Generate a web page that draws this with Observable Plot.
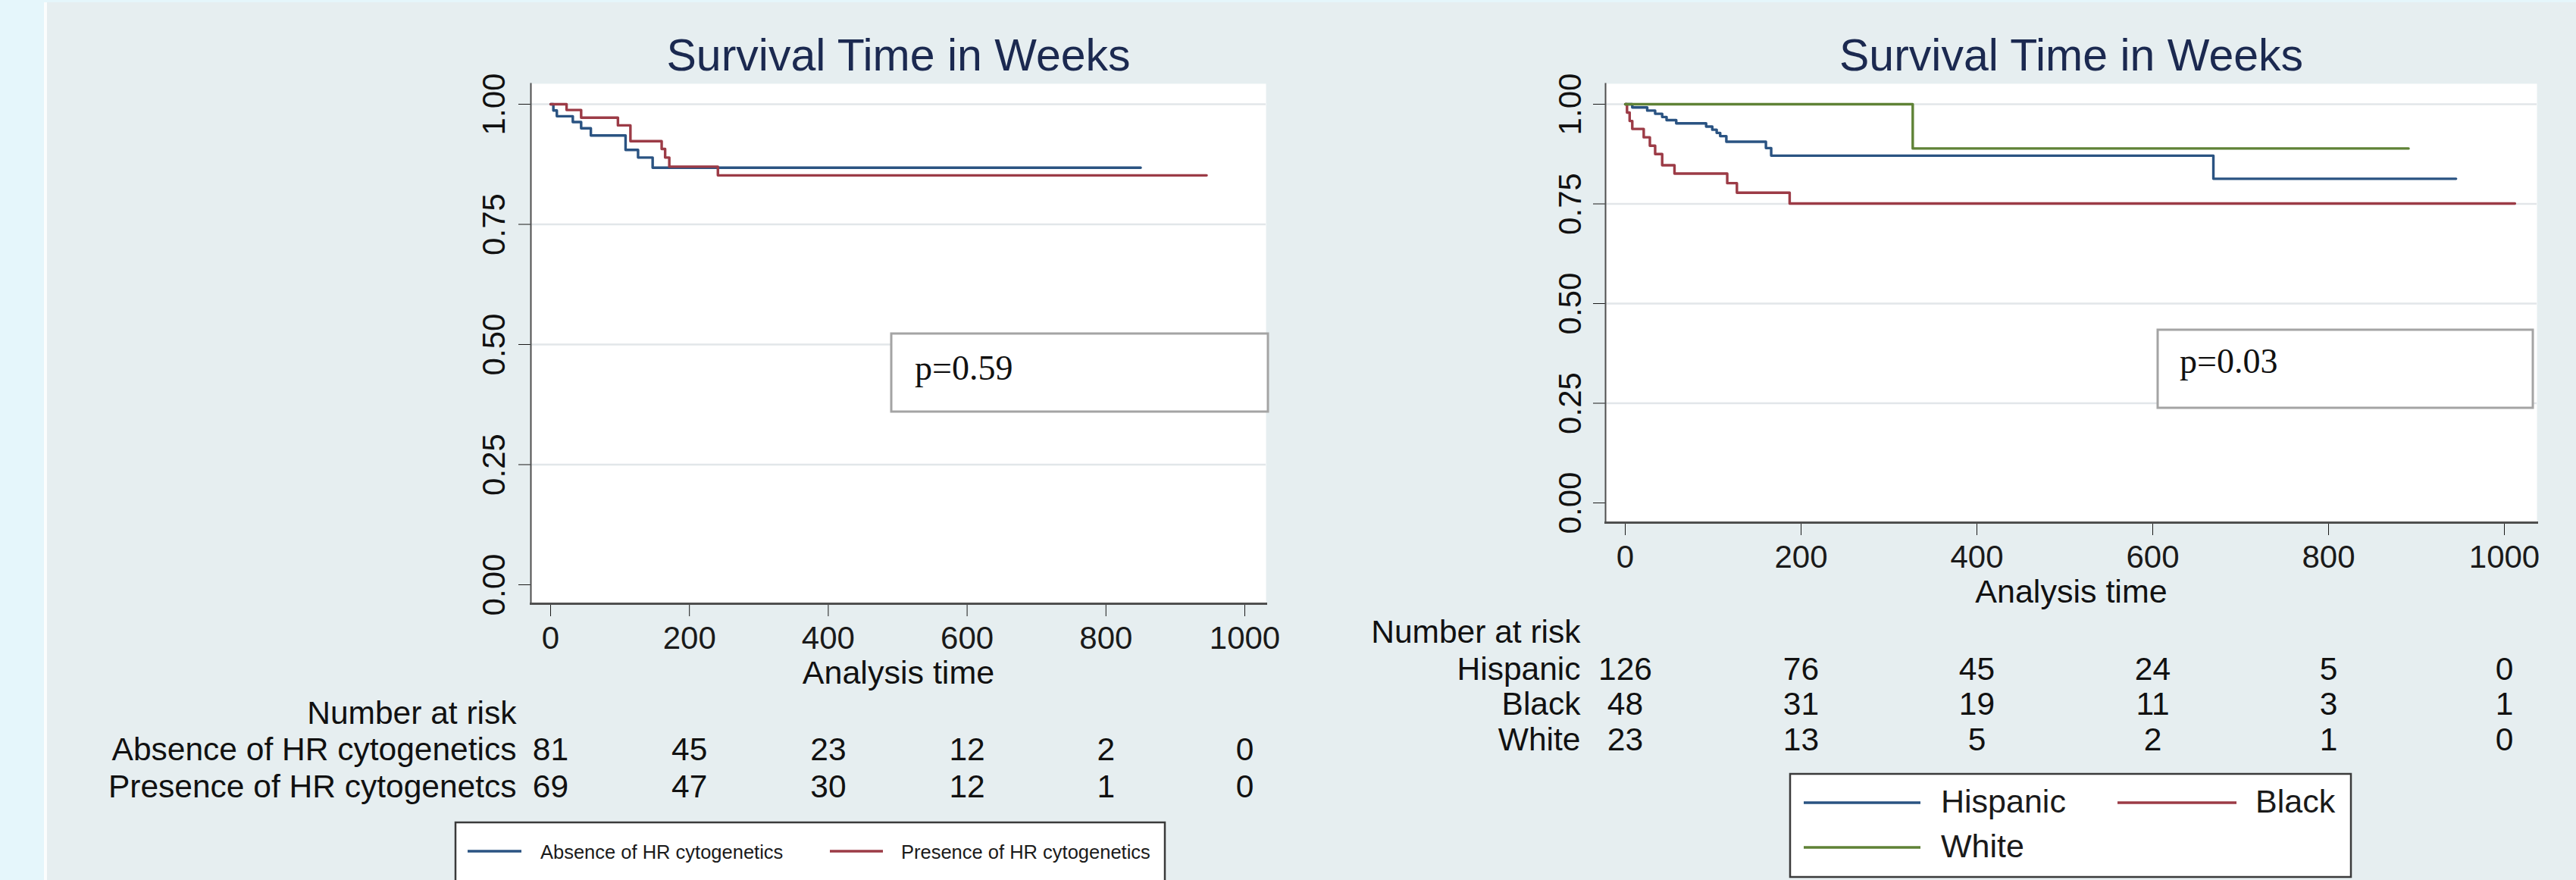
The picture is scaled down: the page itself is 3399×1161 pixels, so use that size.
<!DOCTYPE html>
<html>
<head>
<meta charset="utf-8">
<script src="https://cdn.jsdelivr.net/npm/d3@7"></script>
<script src="https://cdn.jsdelivr.net/npm/@observablehq/plot@0.6"></script>
<style>
  html, body { margin: 0; padding: 0; background: #e6eef0; }
  #root { position: relative; width: 3399px; height: 1161px; overflow: hidden; background: #e6eef0; font-family: 'Liberation Sans', Arial, sans-serif; }
  .abs { position: absolute; left: 0; top: 0; }
</style>
</head>
<body>
<div id="root">
  <div class="abs" style="left:0;top:0;width:58px;height:1161px;background:#e5f6fb"></div>
  <div class="abs" style="left:0;top:0;width:3399px;height:3px;background:#e5f6fb"></div>
  <div class="abs" style="left:58px;top:3px;width:4px;height:1158px;background:#fbfdfd"></div>
  <div id="leftPlot" class="abs" style="left:0;top:0"></div>
  <div id="rightPlot" class="abs" style="left:1700px;top:0"></div>
  <svg id="overlay" class="abs" width="3399" height="1161" style="pointer-events:none"></svg>
</div>
<script>
// ---------------- DATA ----------------
const titleText = "Survival Time in Weeks";
const xLabel = "Analysis time";
const riskTitle = "Number at risk";
const xTicks = [0, 200, 400, 600, 800, 1000];
const yTicks = [0, 0.25, 0.5, 0.75, 1];

// Left panel: HR cytogenetics
const hrGroups = ["Absence of HR cytogenetics", "Presence of HR cytogenetics"];
const hrRiskLabels = ["Absence of HR cytogenetics", "Presence of HR cytogenetcs"];
const absenceTime = [0, 4, 9, 32, 44, 58, 108, 126, 147, 850];
const absenceSurv = [1, 0.987, 0.975, 0.963, 0.950, 0.935, 0.905, 0.889, 0.868, 0.868];
const presenceTime = [0, 23, 44, 97, 115, 160, 165, 171, 241, 945];
const presenceSurv = [1, 0.988, 0.972, 0.956, 0.923, 0.907, 0.889, 0.870, 0.852, 0.852];
const absenceRisk = [81, 45, 23, 12, 2, 0];
const presenceRisk = [69, 47, 30, 12, 1, 0];
const leftP = "p=0.59";

// Right panel: race
const raceGroups = ["Hispanic", "Black", "White"];
const hispanicTime = [0, 8, 25, 34, 42, 47, 58, 92, 99, 104, 108, 115, 160, 166, 669, 945];
const hispanicSurv = [1, 0.992, 0.984, 0.976, 0.968, 0.960, 0.952, 0.944, 0.936, 0.928, 0.920, 0.906, 0.890, 0.871, 0.813, 0.813];
const blackTime = [0, 2, 5, 8, 21, 28, 34, 42, 56, 116, 127, 187, 1012];
const blackSurv = [1, 0.979, 0.958, 0.938, 0.917, 0.896, 0.875, 0.847, 0.826, 0.802, 0.778, 0.751, 0.751];
const whiteTime = [0, 327, 891];
const whiteSurv = [1, 0.889, 0.889];
const hispanicRisk = [126, 76, 45, 24, 5, 0];
const blackRisk = [48, 31, 19, 11, 3, 1];
const whiteRisk = [23, 13, 5, 2, 1, 0];
const rightP = "p=0.03";

// ---------------- STYLE ----------------
const C_BLUE = "#2a5382";
const C_RED = "#9c3b46";
const C_GREEN = "#5f8236";
const C_TITLE = "#1b2950";
const C_AXIS = "#4f4f4f";
const C_GRID = "#e2e6e9";
const FONT = "'Liberation Sans', Arial, sans-serif";
const FS_TEXT = 42.5;

const toRows = (T, S) => T.map((t, i) => ({t, s: S[i]}));
const riskRows = (N) => xTicks.map((t, i) => ({t, n: N[i]}));

function kmPlot(cfg) {
  const marks = [
    Plot.frame({fill: "white", stroke: null}),
    Plot.ruleY(yTicks.filter(d => d > 0), {stroke: C_GRID, strokeWidth: 2.5}),
    Plot.frame({anchor: "left", stroke: C_AXIS, strokeWidth: 2}),
    Plot.frame({anchor: "bottom", stroke: C_AXIS, strokeWidth: 3}),
    ...cfg.series.map(sr => Plot.line(toRows(sr.time, sr.surv), {x: "t", y: "s", curve: "step-after", stroke: sr.color, strokeWidth: 3.4})),
    Plot.text(yTicks, {y: d => d, text: d => d.toFixed(2), frameAnchor: "left", dx: cfg.yLabelDx, rotate: -90, textAnchor: "middle", lineAnchor: "bottom", fontSize: 42, fill: "#111"}),
    Plot.text([titleText], {text: d => d, frameAnchor: "top", dy: -18, lineAnchor: "bottom", fontSize: 59, fill: C_TITLE}),
    Plot.text([xLabel], {text: d => d, frameAnchor: "bottom", dy: 105, lineAnchor: "bottom", fontSize: 43, fill: "#111"}),
    Plot.text([riskTitle], {text: d => d, frameAnchor: "bottom-left", dx: cfg.rowDx, dy: 158, textAnchor: "end", lineAnchor: "bottom", fontSize: FS_TEXT, fill: "#111"}),
    ...cfg.risk.flatMap((r, i) => [
      Plot.text([r.label], {text: d => d, frameAnchor: "bottom-left", dx: cfg.rowDx, dy: cfg.rowDy[i], textAnchor: "end", lineAnchor: "bottom", fontSize: FS_TEXT, fill: "#111"}),
      Plot.text(riskRows(r.n), {x: "t", text: "n", frameAnchor: "bottom", dy: cfg.rowDy[i], lineAnchor: "bottom", fontSize: FS_TEXT, fill: "#111"})
    ])
  ];
  return Plot.plot({
    width: cfg.width, height: 1161,
    marginLeft: cfg.ml, marginRight: cfg.mr, marginTop: 110, marginBottom: cfg.mb,
    style: {background: "transparent", fontFamily: FONT, fontSize: "42px", color: "#1a1a1a", maxWidth: "none", overflow: "visible"},
    x: {domain: [0, 1000], ticks: xTicks, tickSize: 17, tickPadding: 13, tickFormat: d => String(d), label: null, insetLeft: cfg.xil, insetRight: cfg.xir},
    y: {domain: [0, 1], ticks: yTicks, tickSize: 16, tickFormat: () => "", label: null, insetTop: 27, insetBottom: cfg.yib},
    marks
  });
}

const left = kmPlot({
  width: 1700, ml: 700, mr: 30, mb: 365, xil: 26, xir: 28, yib: 25,
  yLabelDx: -35, rowDx: -19, rowDy: [206, 255],
  series: [
    {time: absenceTime, surv: absenceSurv, color: C_BLUE},
    {time: presenceTime, surv: presenceSurv, color: C_RED}
  ],
  risk: [
    {label: hrRiskLabels[0], n: absenceRisk},
    {label: hrRiskLabels[1], n: presenceRisk}
  ]
});
document.getElementById("leftPlot").appendChild(left);

const right = kmPlot({
  width: 1699, ml: 418, mr: 52, mb: 472, xil: 26, xir: 43, yib: 26,
  yLabelDx: -33, rowDx: -33, rowDy: [207, 253, 300],
  series: [
    {time: hispanicTime, surv: hispanicSurv, color: C_BLUE},
    {time: blackTime, surv: blackSurv, color: C_RED},
    {time: whiteTime, surv: whiteSurv, color: C_GREEN}
  ],
  risk: [
    {label: raceGroups[0], n: hispanicRisk},
    {label: raceGroups[1], n: blackRisk},
    {label: raceGroups[2], n: whiteRisk}
  ]
});
document.getElementById("rightPlot").appendChild(right);

// ---------------- OVERLAY: p-value boxes and legends ----------------
const svg = d3.select("#overlay");
function pBox(x, y, w, h, tx, ty, label) {
  svg.append("rect").attr("x", x).attr("y", y).attr("width", w).attr("height", h)
    .attr("fill", "white").attr("stroke", "#a4a4a4").attr("stroke-width", 3);
  svg.append("text").attr("x", tx).attr("y", ty).attr("font-family", "'Liberation Serif', 'Times New Roman', serif")
    .attr("font-size", 46).attr("fill", "#111").text(label);
}
pBox(1176, 440, 497, 103, 1207, 501, leftP);
pBox(2847, 435, 495, 103, 2876, 492, rightP);

function legendBox(x, y, w, h) {
  svg.append("rect").attr("x", x).attr("y", y).attr("width", w).attr("height", h)
    .attr("fill", "white").attr("stroke", "#3a3a3a").attr("stroke-width", 2.5);
}
function legendItem(x1, x2, ly, color, tx, ty, label, fs) {
  svg.append("line").attr("x1", x1).attr("x2", x2).attr("y1", ly).attr("y2", ly)
    .attr("stroke", color).attr("stroke-width", 3.5);
  svg.append("text").attr("x", tx).attr("y", ty).attr("font-family", FONT)
    .attr("font-size", fs).attr("fill", "#1a1a1a").text(label);
}
legendBox(601, 1085, 936, 130);
legendItem(617, 688, 1123, C_BLUE, 713, 1133, hrGroups[0], 25.5);
legendItem(1095, 1165, 1123, C_RED, 1189, 1133, hrGroups[1], 25.5);

legendBox(2362, 1021, 740, 136);
legendItem(2380, 2534, 1059, C_BLUE, 2561, 1072, raceGroups[0], 43);
legendItem(2794, 2951, 1059, C_RED, 2976, 1072, raceGroups[1], 43);
legendItem(2380, 2534, 1118, C_GREEN, 2561, 1131, raceGroups[2], 43);
</script>
</body>
</html>
